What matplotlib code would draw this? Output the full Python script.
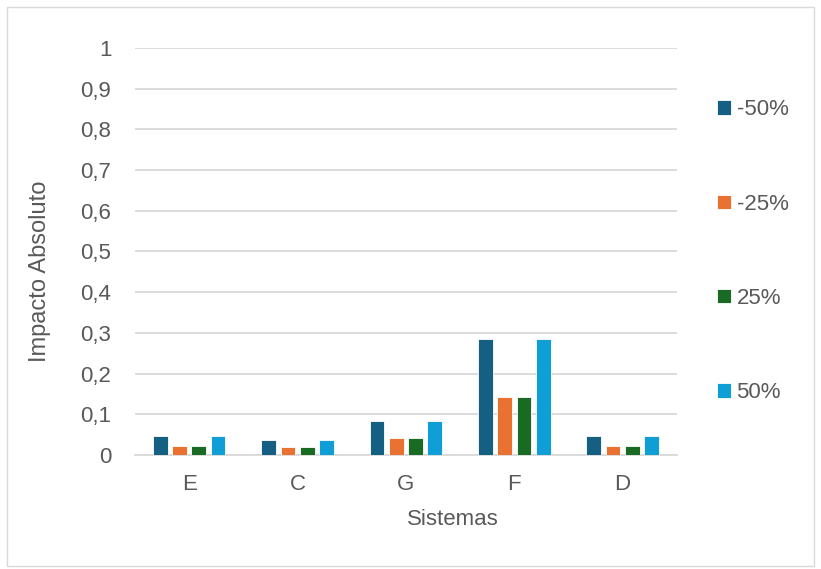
import numpy as np
import matplotlib
matplotlib.use("Agg")
import matplotlib.pyplot as plt
from matplotlib.patches import Rectangle
from matplotlib.ticker import FuncFormatter

plt.rcParams['font.family'] = ['Liberation Sans', 'DejaVu Sans']

sistemas = ["E", "C", "G", "F", "D"]
series = ["-50%", "-25%", "25%", "50%"]
v_m50 = [0.046, 0.038, 0.084, 0.284, 0.046]
v_m25 = [0.023, 0.019, 0.042, 0.142, 0.023]
v_p25 = [0.023, 0.019, 0.042, 0.142, 0.023]
v_p50 = [0.046, 0.038, 0.084, 0.284, 0.046]
colors = ["#156082", "#E97132", "#196B24", "#0F9ED5"]

text_c = "#595959"
grid_c = "#d9d9d9"
fs = 16

fig = plt.figure(figsize=(8.21, 5.69), dpi=100)
ax = fig.add_axes([0.1644, 0.2004, 0.660, 0.7152])

x = np.arange(len(sistemas))
pitch = 0.178
width = 0.136
for i, (vals, col, lab) in enumerate(zip([v_m50, v_m25, v_p25, v_p50], colors, series)):
    ax.bar(x + (i - 1.5) * pitch, vals, width=width, color=col, label=lab,
           edgecolor="white", linewidth=0.6, zorder=3)

ax.set_xlim(-0.5, len(sistemas) - 0.5)
ax.set_ylim(0, 1)
ax.set_yticks(np.arange(0, 1.01, 0.1))
ax.yaxis.set_major_formatter(FuncFormatter(lambda v, p: ("%g" % round(v, 1)).replace(".", ",")))
ax.set_xticks(x)
ax.set_xticklabels(sistemas)
ax.grid(axis="y", color=grid_c, linewidth=1.3, zorder=0)
for s in ["top", "right", "left"]:
    ax.spines[s].set_visible(False)
ax.spines["bottom"].set_color(grid_c)
ax.spines["bottom"].set_linewidth(1.3)
ax.tick_params(axis="both", length=0, colors=text_c, labelsize=fs)
ax.tick_params(axis="y", pad=17)
ax.tick_params(axis="x", pad=14)

ax.set_ylabel("Impacto Absoluto", color=text_c, fontsize=17, labelpad=21)
ax.set_xlabel("Sistemas", color=text_c, fontsize=fs, labelpad=10)
ax.yaxis.label.set_y(0.452)
ax.xaxis.label.set_x(0.587)

fig.legend(loc="upper left", bbox_to_anchor=(0.86, 0.845), frameon=False,
           fontsize=fs, labelcolor=text_c, handlelength=0.6, handleheight=0.6,
           handletextpad=0.27, labelspacing=3.3, borderpad=0)

fig.add_artist(Rectangle((0.009, 0.006), 0.982, 0.981, transform=fig.transFigure,
                         fill=False, edgecolor=grid_c, linewidth=1))

fig.savefig("out.png", dpi=100)
